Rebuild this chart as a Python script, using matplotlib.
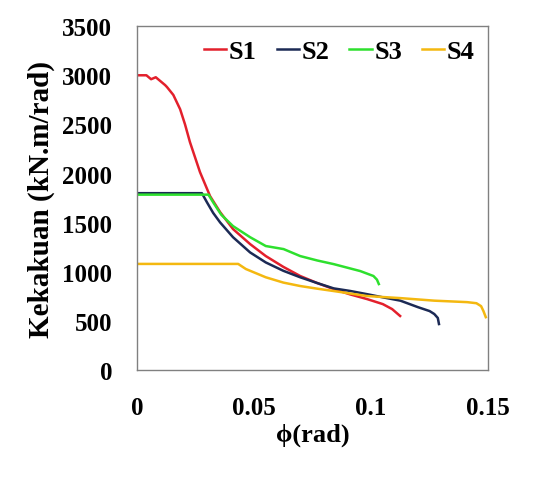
import matplotlib
matplotlib.use("Agg")
import matplotlib.pyplot as plt
import numpy as np

# values
s1_phi = [0.0, 0.004, 0.006, 0.008, 0.010, 0.012, 0.0128, 0.0155, 0.0184, 0.0205, 0.0226, 0.0269,
          0.0312, 0.0355, 0.041, 0.0483, 0.055, 0.0625, 0.0697, 0.077, 0.084, 0.091, 0.0983,
          0.105, 0.109, 0.1124]
s1_k = [3000, 3000, 2960, 2980, 2940, 2900, 2880, 2800, 2655, 2500, 2320, 2014,
        1770, 1607, 1435, 1282, 1160, 1050, 957, 885, 824, 770, 722,
        671, 620, 550]

s2_phi = [0.0, 0.0277, 0.0299, 0.0325, 0.0355, 0.041, 0.0483, 0.055, 0.0625, 0.0697, 0.077,
          0.084, 0.091, 0.0983, 0.105, 0.1125, 0.12, 0.125, 0.127, 0.1285, 0.129]
s2_k = [1800, 1800, 1706, 1600, 1502, 1352, 1197, 1095, 1010, 944, 885,
        831, 805, 772, 740, 706, 640, 600, 570, 530, 468]

s3_phi = [0.0, 0.0305, 0.0327, 0.036, 0.041, 0.0483, 0.055, 0.0626, 0.0697, 0.077, 0.084,
          0.0954, 0.101, 0.1025, 0.1033]
s3_k = [1785, 1785, 1700, 1580, 1465, 1352, 1262, 1231, 1160, 1115, 1078,
        1007, 957, 920, 875]

s4_phi = [0.0, 0.0432, 0.0465, 0.055, 0.0625, 0.0697, 0.077, 0.084, 0.0983, 0.1125, 0.127,
          0.141, 0.145, 0.147, 0.148, 0.149]
s4_k = [1080, 1080, 1028, 944, 890, 855, 828, 804, 753, 732, 706,
        691, 680, 650, 600, 538]

series = [("S1", s1_phi, s1_k, "#e3202c"),
          ("S2", s2_phi, s2_k, "#1c2a55"),
          ("S3", s3_phi, s3_k, "#2ee02e"),
          ("S4", s4_phi, s4_k, "#f4b810")]

plt.rcParams['font.family'] = ['Liberation Serif', 'DejaVu Serif']
plt.rcParams['font.weight'] = 'bold'

fig = plt.figure(figsize=(5.46, 4.85), dpi=100)
ax = fig.add_axes([0.251, 0.235, 0.643, 0.709])

for name, x, y, c in series:
    ax.plot(x, y, color=c, lw=1.8, label=name)

ax.set_xlim(0, 0.15)
ax.set_ylim(0, 3500)
ax.set_xticks([0, 0.05, 0.1, 0.15])
ax.set_xticklabels(["0", "0.05", "0.1", "0.15"])
ax.set_yticks(np.arange(0, 3501, 500))
ax.tick_params(length=0, labelsize=18)
ax.tick_params(axis='x', pad=19)
ax.tick_params(axis='y', pad=18)
for lab in ax.get_xticklabels() + ax.get_yticklabels():
    lab.set_fontweight('bold')

for sp in ax.spines.values():
    sp.set_color("#808080")
    sp.set_linewidth(1.0)

ax.set_xlabel("ϕ(rad)", fontsize=19, fontweight='bold', labelpad=2)
ax.set_ylabel("Kekakuan (kN.m/rad)", fontsize=21, fontweight='bold', labelpad=5)

ax.legend(loc='upper right', ncol=4, frameon=False, handlelength=0.85,
          handletextpad=0.1, columnspacing=0.75, borderaxespad=0.1,
          prop={'size': 19, 'weight': 'bold'})

plt.savefig("out.png", dpi=100)
